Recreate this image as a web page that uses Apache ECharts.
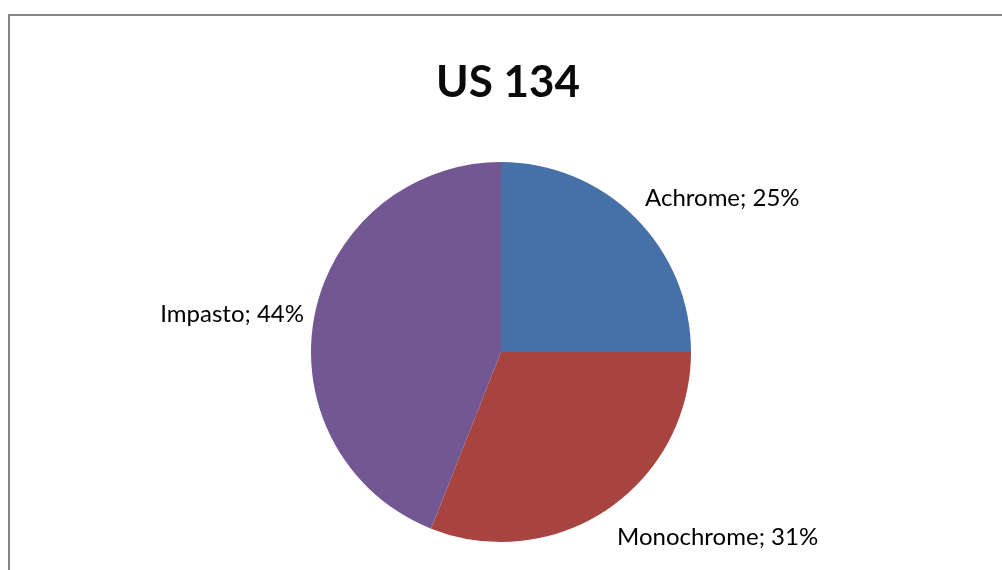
<!DOCTYPE html>
<html>
<head>
<meta charset="utf-8">
<script src="https://cdn.jsdelivr.net/npm/echarts@6/dist/echarts.min.js"></script>
<style>html,body{margin:0;padding:0;background:#fff}#c{width:1002px;height:570px}</style>
</head>
<body>
<div id="c"></div>
<script>
var title = 'US 134';
var categories = ['Achrome', 'Monochrome', 'Impasto'];
var values = [25, 31, 44];
var colors = ['#4670a8', '#a8443f', '#735793'];
// label anchor placement (style)
var labelPos = [
  {x: 645, y: 198, align: 'left'},
  {x: 617, y: 537, align: 'left'},
  {x: 304, y: 314, align: 'right'}
];
var chart = echarts.init(document.getElementById('c'));
chart.setOption({
  backgroundColor: '#fff',
  animation: false,
  graphic: [{
    type: 'polyline',
    shape: {points: [[9, 600], [9, 15], [1010, 15]]},
    style: {stroke: '#858585', lineWidth: 2, fill: null}
  }],
  title: {
    text: title, left: 503, top: 56, textAlign: 'center',
    textStyle: {fontFamily: 'Lato', fontWeight: 'bold', fontSize: 44, color: '#0a0a0a'}
  },
  series: [{
    type: 'pie',
    center: [501, 352],
    radius: 190,
    startAngle: 90,
    clockwise: true,
    data: categories.map(function (c, i) { return {name: c, value: values[i], itemStyle: {color: colors[i]}}; }),
    label: {
      show: true, position: 'outside',
      formatter: function (p) { return p.name + '; ' + Math.round(p.percent) + '%'; },
      fontFamily: 'Lato', fontSize: 24, color: '#000'
    },
    labelLine: {show: false},
    labelLayout: function (p) {
      var l = labelPos[p.dataIndex];
      return {x: l.x, y: l.y, align: l.align, verticalAlign: 'middle'};
    },
    emphasis: {disabled: true}
  }]
});
</script>
</body>
</html>
